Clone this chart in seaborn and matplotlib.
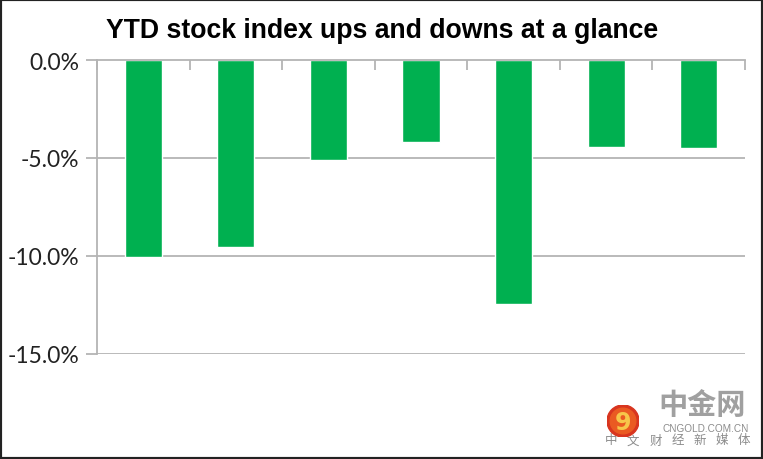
import matplotlib
matplotlib.use("Agg")
import matplotlib.pyplot as plt
import matplotlib.patches as mpatches
from matplotlib.ticker import FuncFormatter
import seaborn as sns
import pandas as pd

# Data
indices = ["1", "2", "3", "4", "5", "6", "7"]
ytd_change = [-10.05, -9.55, -5.1, -4.2, -12.45, -4.45, -4.5]
y_ticks = [0, -5, -10, -15]

title = "YTD stock index ups and downs at a glance"
bar_color = "#00B050"
grid_color = "#b4b4b4"

sns.set_theme(style="white")
plt.rcParams['font.family'] = ['Lato', 'DejaVu Sans']

df = pd.DataFrame({"index": indices, "change": ytd_change})

fig = plt.figure(figsize=(7.63, 4.6), dpi=100)
ax = fig.add_axes([97 / 763, 1 - 355 / 460, (745 - 97) / 763, (355 - 61) / 460])

sns.barplot(data=df, x="index", y="change", color=bar_color, width=0.4,
            saturation=1, ax=ax, zorder=3)

ax.set_ylim(-15, 0)
ax.set_xlim(-0.5, len(indices) - 0.5)
ax.set_yticks(y_ticks)
ax.yaxis.set_major_formatter(FuncFormatter(lambda v, p: f"{v:.1f}%"))
for t in y_ticks[1:]:
    ax.axhline(t, color=grid_color, lw=1.3, zorder=1)

# category axis sits on the 0 line, ticks between categories pointing down
ax.xaxis.set_ticks_position("top")
ax.set_xticks([i - 0.5 for i in range(len(indices) + 1)])
ax.set_xticklabels([])
ax.tick_params(axis="x", direction="in", length=7, width=1.3, color=grid_color)
ax.tick_params(axis="y", direction="out", length=8, width=1.3, color=grid_color,
               labelsize=16.5, labelcolor="#222222", pad=5, left=True)
ax.set_xlabel("")
ax.set_ylabel("")
for side in ["bottom", "right"]:
    ax.spines[side].set_visible(False)
for side in ["top", "left"]:
    ax.spines[side].set_color(grid_color)
    ax.spines[side].set_linewidth(1.3)
    ax.spines[side].set_zorder(4)

fig.text(382 / 763, 1 - 31 / 460, title, ha="center", va="center",
         fontsize=19.2, fontweight="bold", color="black",
         family=['Liberation Sans Narrow', 'Liberation Sans', 'DejaVu Sans'])

# watermark logo
lax = fig.add_axes([607 / 763, 1 - 438 / 460, 32 / 763, 32 / 460])
lax.set_xlim(-1, 1)
lax.set_ylim(-1, 1)
lax.set_aspect("equal")
lax.axis("off")
lax.add_patch(mpatches.Circle((0, 0), 1, color="#d8351f"))
lax.add_patch(mpatches.Circle((0, 0), 0.8, color="#ea5a22"))
lax.text(0.02, -0.05, "9", ha="center", va="center", fontsize=17,
         fontweight="bold", color="#f7c64a", family=['DejaVu Sans'])

cjk = ['Noto Sans CJK SC', 'DejaVu Sans']
fig.text(702 / 763, 1 - 405 / 460, "中金网", ha="center", va="center",
         fontsize=21, fontweight="bold", color="#a0a0a0", family=cjk)
fig.text(706 / 763, 1 - 429 / 460, "CNGOLD.COM.CN", ha="center", va="center",
         fontsize=7.2, color="#8c8c8c", family=['Liberation Sans', 'DejaVu Sans'])
slogan = "中文财经新媒体"
for i, ch in enumerate(slogan):
    fig.text((611 + i * 22.2) / 763, 1 - 441 / 460, ch, ha="center",
             va="center", fontsize=9, color="#8c8c8c", family=cjk)

# dark frame around the picture
fig.patches.append(mpatches.Rectangle((0, 0), 1, 1, transform=fig.transFigure,
                                      fill=False, edgecolor="#222222", lw=3))

fig.savefig("out.png", dpi=100)
